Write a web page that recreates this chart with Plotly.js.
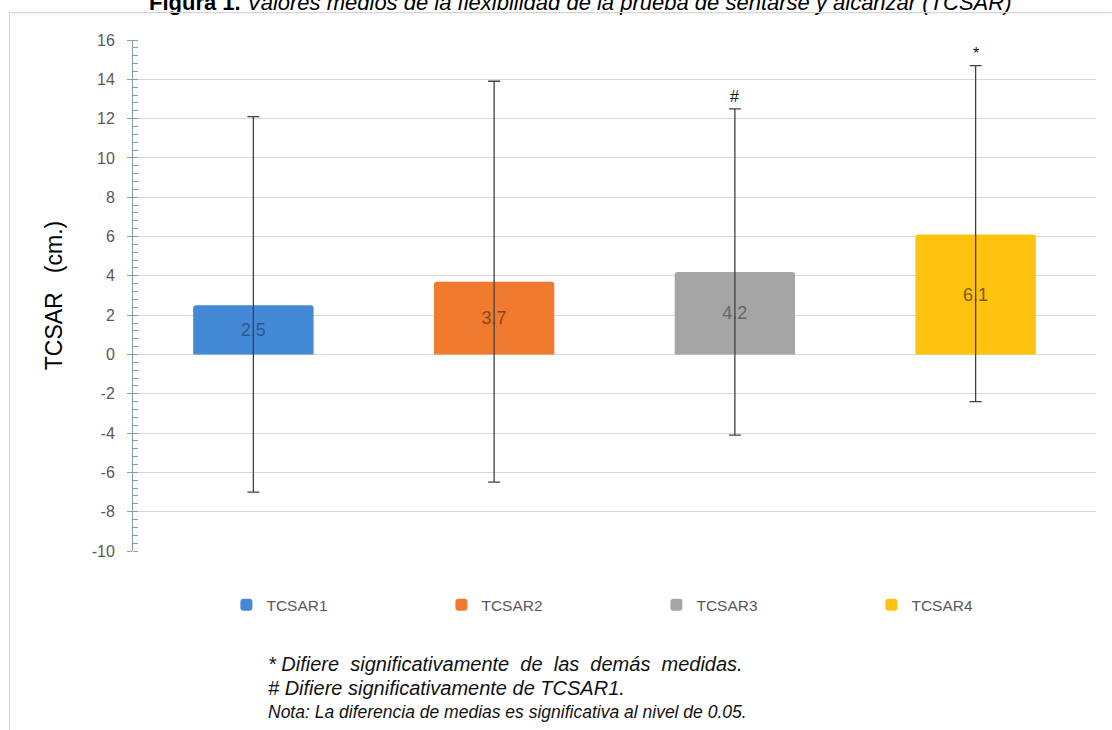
<!DOCTYPE html>
<html>
<head>
<meta charset="utf-8">
<script src="https://cdn.plot.ly/plotly-3.0.1.min.js"></script>
<style>
  html, body { margin: 0; padding: 0; background: #ffffff; }
  #wrap { position: relative; width: 1112px; height: 730px; overflow: hidden; }
  #chart { position: absolute; left: 0; top: 0; width: 1112px; height: 730px; }
  .frameTop { position: absolute; left: 9px; top: 12px; width: 1103px; height: 1px; background: #d4d4d4; box-shadow: 0 1px 2px rgba(0,0,0,0.08); pointer-events: none; }
  .frameLeft { position: absolute; left: 9px; top: 12px; width: 1px; height: 718px; background: #d4d4d4; pointer-events: none; }
</style>
</head>
<body>
<div id="wrap">
  <div id="chart"></div>
  <div class="frameTop"></div>
  <div class="frameLeft"></div>
</div>
<script>
// ---- data ----
const categories = ['TCSAR1', 'TCSAR2', 'TCSAR3', 'TCSAR4'];
const means = [2.5, 3.7, 4.2, 6.1];
const errUpper = [9.6, 10.2, 8.3, 8.6];
const errLower = [9.5, 10.2, 8.3, 8.5];
const sigMarks = ['', '', '#', '*'];
const barColors = ['#4389d6', '#f07b2f', '#a5a5a5', '#ffc20e'];
const labelColors = ['#2b5a8c', '#8c4415', '#666666', '#7a5c00'];
const yTickVals = [-10, -8, -6, -4, -2, 0, 2, 4, 6, 8, 10, 12, 14, 16];
const titleText = '<b>Figura 1.</b> <i>Valores medios de la flexibilidad de la prueba de sentarse y alcanzar (TCSAR)</i>';
const noteLines = [
  '* Difiere  significativamente  de  las  demás  medidas.',
  '# Difiere significativamente de TCSAR1.',
  'Nota: La diferencia de medias es significativa al nivel de 0.05.'
];

const FONT = 'Liberation Sans, Arial, sans-serif';

const traces = categories.map((c, i) => ({
  type: 'bar',
  name: c,
  x: [c],
  y: [means[i]],
  width: 0.5,
  text: [means[i].toFixed(1)],
  textposition: 'inside',
  insidetextanchor: 'middle',
  textangle: 0,
  textfont: { family: FONT, size: 18, color: labelColors[i] },
  marker: { color: barColors[i], cornerradius: 3, line: { width: 0 } },
  error_y: {
    type: 'data', symmetric: false,
    array: [errUpper[i]], arrayminus: [errLower[i]],
    color: '#404040', thickness: 1.3, width: 6
  },
  hoverinfo: 'skip'
}));

const annotations = [];
categories.forEach((c, i) => {
  if (sigMarks[i]) {
    annotations.push({
      x: c, y: means[i] + errUpper[i], xref: 'x', yref: 'y',
      text: sigMarks[i], showarrow: false, yanchor: 'bottom', yshift: 2,
      font: { family: FONT, size: 16, color: '#111111' }
    });
  }
});
annotations.push({
  xref: 'paper', yref: 'paper', x: 0.465, y: 1.074, xanchor: 'center', yanchor: 'middle',
  text: titleText, showarrow: false,
  font: { family: FONT, size: 22, color: '#000000' }
});
const noteY = [-0.221, -0.268, -0.315];
const noteSize = [20, 20, 17.5];
noteLines.forEach((t, k) => {
  annotations.push({
    xref: 'paper', yref: 'paper', x: 0.138, y: noteY[k], xanchor: 'left', yanchor: 'middle',
    text: '<i>' + t + '</i>', showarrow: false,
    font: { family: FONT, size: noteSize[k], color: '#111111' }
  });
});

const layout = {
  width: 1112, height: 730,
  margin: { l: 133, r: 16, t: 40, b: 179 },
  paper_bgcolor: '#ffffff', plot_bgcolor: '#ffffff',
  barmode: 'overlay',
  showlegend: true,
  legend: {
    orientation: 'h', x: 0.097, y: -0.106, xanchor: 'left', yanchor: 'middle',
    entrywidth: 170, entrywidthmode: 'pixels',
    font: { family: FONT, size: 15.5, color: '#595959' },
    bgcolor: 'rgba(0,0,0,0)'
  },
  xaxis: {
    type: 'category', categoryorder: 'array', categoryarray: categories,
    showticklabels: false, showgrid: false, zeroline: false, showline: false, ticks: ''
  },
  yaxis: {
    range: [-10, 16], tickvals: yTickVals, ticktext: yTickVals.map(String),
    showgrid: true, gridcolor: '#d9d9d9', gridwidth: 1,
    zeroline: false,
    showline: true, linecolor: '#8a9bb0', linewidth: 1,
    ticks: 'outside', ticklen: 5, tickcolor: '#8a9bb0',
    ticklabelstandoff: 9,
    minor: { dtick: 0.4, ticks: 'inside', ticklen: 5, tickcolor: '#8a9bb0', showgrid: false },
    tickfont: { family: FONT, size: 16, color: '#595959' },
    title: { text: 'TCSAR   (cm.)', standoff: 22, font: { family: FONT, size: 23, color: '#000000' } }
  },
  annotations: annotations
};

Plotly.newPlot('chart', traces, layout, { displayModeBar: false, staticPlot: true });
</script>
</body>
</html>
